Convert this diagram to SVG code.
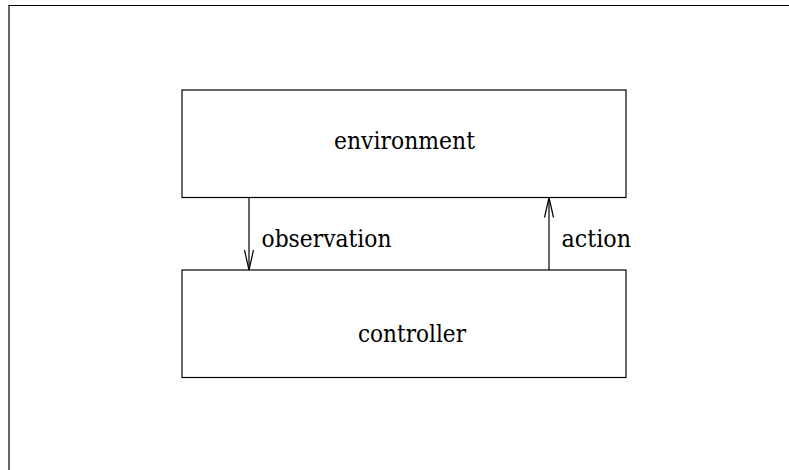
<svg xmlns="http://www.w3.org/2000/svg" width="789" height="470" viewBox="0 0 789 470">
<style>
.box{fill:none;stroke:#000;stroke-width:1.2}
.ln{fill:none;stroke:#000;stroke-width:1.2}
.lbl{font-family:'DejaVu Serif','Liberation Serif',serif;font-size:23.5px;fill:#000}
</style>
<rect width="789" height="470" fill="#fff"/>
<g id="frame">
<path class="ln" d="M9,470 V5.5 H789"/>
</g>
<g id="environment">
<rect class="box" x="182" y="90" width="444" height="107.5"/>
<text class="lbl" x="334" y="149" textLength="141" lengthAdjust="spacingAndGlyphs">environment</text>
</g>
<g id="controller">
<rect class="box" x="182" y="270" width="444" height="107.5"/>
<text class="lbl" x="358" y="341.5" textLength="108" lengthAdjust="spacingAndGlyphs">controller</text>
</g>
<g id="connectors">
<g id="observation">
<path class="ln" d="M249,197.5 V270"/>
<path class="ln" d="M244.5,250 L249,270 L253.5,250"/>
<text class="lbl" x="261.5" y="247" textLength="130" lengthAdjust="spacingAndGlyphs">observation</text>
</g>
<g id="action">
<path class="ln" d="M549,270 V197.5"/>
<path class="ln" d="M544.5,217.5 L549,197.5 L553.5,217.5"/>
<text class="lbl" x="561.5" y="247" textLength="69.5" lengthAdjust="spacingAndGlyphs">action</text>
</g>
</g>
</svg>
